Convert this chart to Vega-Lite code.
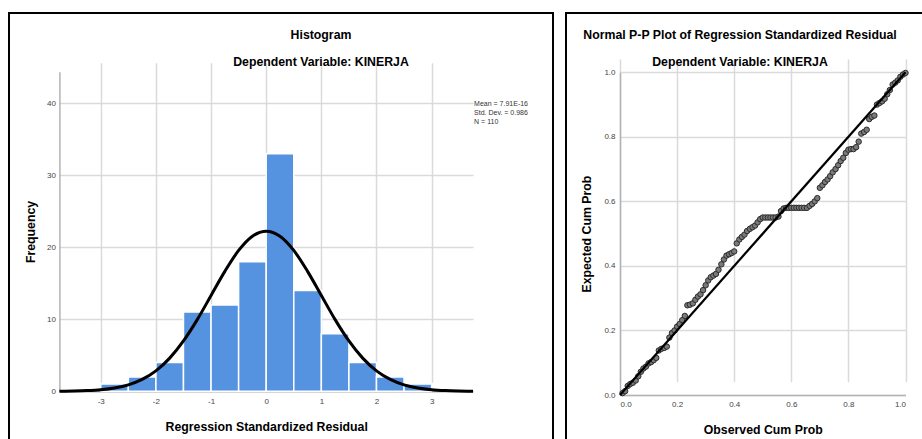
{
  "$schema": "https://vega.github.io/schema/vega-lite/v6.json",
  "padding": {"left": 8, "top": 12, "right": 0, "bottom": 0},
  "background": "white",
  "spacing": 13,
  "bounds": "flush",
  "config": {
    "font": "Liberation Sans",
    "view": {"stroke": "black", "strokeWidth": 2},
    "axis": {
      "ticks": false,
      "grid": true,
      "gridColor": "#dadada",
      "gridWidth": 1.5,
      "domainColor": "#b3b3b3",
      "domainWidth": 1.5,
      "labelFont": "Liberation Sans",
      "labelFontSize": 8,
      "labelColor": "#444444",
      "titleFont": "Liberation Sans",
      "titleFontSize": 12.3,
      "titleFontWeight": "bold",
      "titleColor": "black"
    }
  },
  "datasets": {
    "hist": [
      {"bin_start": -3.0, "bin_end": -2.5, "count": 1},
      {"bin_start": -2.5, "bin_end": -2.0, "count": 2},
      {"bin_start": -2.0, "bin_end": -1.5, "count": 4},
      {"bin_start": -1.5, "bin_end": -1.0, "count": 11},
      {"bin_start": -1.0, "bin_end": -0.5, "count": 12},
      {"bin_start": -0.5, "bin_end": 0.0, "count": 18},
      {"bin_start": 0.0, "bin_end": 0.5, "count": 33},
      {"bin_start": 0.5, "bin_end": 1.0, "count": 14},
      {"bin_start": 1.0, "bin_end": 1.5, "count": 8},
      {"bin_start": 1.5, "bin_end": 2.0, "count": 4},
      {"bin_start": 2.0, "bin_end": 2.5, "count": 2},
      {"bin_start": 2.5, "bin_end": 3.0, "count": 1}
    ],
    "curve": [
      {"z": -3.75, "freq": 0.016}, {"z": -3.5, "freq": 0.041}, {"z": -3.25, "freq": 0.097},
      {"z": -3.0, "freq": 0.217}, {"z": -2.75, "freq": 0.455}, {"z": -2.5, "freq": 0.894},
      {"z": -2.25, "freq": 1.65}, {"z": -2.0, "freq": 2.84}, {"z": -1.75, "freq": 4.61},
      {"z": -1.5, "freq": 7.0}, {"z": -1.25, "freq": 9.96}, {"z": -1.0, "freq": 13.31},
      {"z": -0.75, "freq": 16.66}, {"z": -0.5, "freq": 19.57}, {"z": -0.25, "freq": 21.55},
      {"z": 0.0, "freq": 22.25}, {"z": 0.25, "freq": 21.55}, {"z": 0.5, "freq": 19.57},
      {"z": 0.75, "freq": 16.66}, {"z": 1.0, "freq": 13.31}, {"z": 1.25, "freq": 9.96},
      {"z": 1.5, "freq": 7.0}, {"z": 1.75, "freq": 4.61}, {"z": 2.0, "freq": 2.84},
      {"z": 2.25, "freq": 1.65}, {"z": 2.5, "freq": 0.894}, {"z": 2.75, "freq": 0.455},
      {"z": 3.0, "freq": 0.217}, {"z": 3.25, "freq": 0.097}, {"z": 3.5, "freq": 0.041},
      {"z": 3.75, "freq": 0.016}
    ],
    "pp": [
      {"obs": 0.009, "exp": 0.006}, {"obs": 0.018, "exp": 0.012}, {"obs": 0.027, "exp": 0.028},
      {"obs": 0.036, "exp": 0.034}, {"obs": 0.045, "exp": 0.038}, {"obs": 0.055, "exp": 0.045},
      {"obs": 0.064, "exp": 0.058}, {"obs": 0.073, "exp": 0.072}, {"obs": 0.082, "exp": 0.082},
      {"obs": 0.091, "exp": 0.088}, {"obs": 0.1, "exp": 0.098}, {"obs": 0.109, "exp": 0.102},
      {"obs": 0.118, "exp": 0.108}, {"obs": 0.127, "exp": 0.115}, {"obs": 0.136, "exp": 0.138},
      {"obs": 0.145, "exp": 0.143}, {"obs": 0.155, "exp": 0.146}, {"obs": 0.164, "exp": 0.15},
      {"obs": 0.173, "exp": 0.178}, {"obs": 0.182, "exp": 0.192}, {"obs": 0.191, "exp": 0.2},
      {"obs": 0.2, "exp": 0.212}, {"obs": 0.209, "exp": 0.22}, {"obs": 0.218, "exp": 0.232},
      {"obs": 0.227, "exp": 0.245}, {"obs": 0.236, "exp": 0.278}, {"obs": 0.245, "exp": 0.28},
      {"obs": 0.255, "exp": 0.284}, {"obs": 0.264, "exp": 0.295}, {"obs": 0.273, "exp": 0.305},
      {"obs": 0.282, "exp": 0.312}, {"obs": 0.291, "exp": 0.325}, {"obs": 0.3, "exp": 0.34},
      {"obs": 0.309, "exp": 0.355}, {"obs": 0.318, "exp": 0.365}, {"obs": 0.327, "exp": 0.37},
      {"obs": 0.336, "exp": 0.375}, {"obs": 0.345, "exp": 0.388}, {"obs": 0.355, "exp": 0.405},
      {"obs": 0.364, "exp": 0.42}, {"obs": 0.373, "exp": 0.432}, {"obs": 0.382, "exp": 0.436},
      {"obs": 0.391, "exp": 0.44}, {"obs": 0.4, "exp": 0.445}, {"obs": 0.409, "exp": 0.47},
      {"obs": 0.418, "exp": 0.482}, {"obs": 0.427, "exp": 0.49}, {"obs": 0.436, "exp": 0.497},
      {"obs": 0.445, "exp": 0.508}, {"obs": 0.455, "exp": 0.515}, {"obs": 0.464, "exp": 0.52},
      {"obs": 0.473, "exp": 0.525}, {"obs": 0.482, "exp": 0.535}, {"obs": 0.491, "exp": 0.545},
      {"obs": 0.5, "exp": 0.55}, {"obs": 0.509, "exp": 0.55}, {"obs": 0.518, "exp": 0.55},
      {"obs": 0.527, "exp": 0.55}, {"obs": 0.536, "exp": 0.55}, {"obs": 0.545, "exp": 0.55},
      {"obs": 0.555, "exp": 0.553}, {"obs": 0.564, "exp": 0.57}, {"obs": 0.573, "exp": 0.578},
      {"obs": 0.582, "exp": 0.58}, {"obs": 0.591, "exp": 0.58}, {"obs": 0.6, "exp": 0.58},
      {"obs": 0.609, "exp": 0.58}, {"obs": 0.618, "exp": 0.58}, {"obs": 0.627, "exp": 0.58},
      {"obs": 0.636, "exp": 0.58}, {"obs": 0.645, "exp": 0.58}, {"obs": 0.655, "exp": 0.58},
      {"obs": 0.664, "exp": 0.586}, {"obs": 0.673, "exp": 0.592}, {"obs": 0.682, "exp": 0.6},
      {"obs": 0.691, "exp": 0.61}, {"obs": 0.7, "exp": 0.642}, {"obs": 0.709, "exp": 0.65},
      {"obs": 0.718, "exp": 0.66}, {"obs": 0.727, "exp": 0.668}, {"obs": 0.736, "exp": 0.678},
      {"obs": 0.745, "exp": 0.69}, {"obs": 0.755, "exp": 0.7}, {"obs": 0.764, "exp": 0.712},
      {"obs": 0.773, "exp": 0.725}, {"obs": 0.782, "exp": 0.735}, {"obs": 0.791, "exp": 0.75},
      {"obs": 0.8, "exp": 0.76}, {"obs": 0.809, "exp": 0.762}, {"obs": 0.818, "exp": 0.762},
      {"obs": 0.827, "exp": 0.768}, {"obs": 0.836, "exp": 0.785}, {"obs": 0.845, "exp": 0.81},
      {"obs": 0.855, "exp": 0.815}, {"obs": 0.864, "exp": 0.822}, {"obs": 0.873, "exp": 0.855},
      {"obs": 0.882, "exp": 0.862}, {"obs": 0.891, "exp": 0.866}, {"obs": 0.9, "exp": 0.9},
      {"obs": 0.909, "exp": 0.905}, {"obs": 0.918, "exp": 0.91}, {"obs": 0.927, "exp": 0.918},
      {"obs": 0.936, "exp": 0.932}, {"obs": 0.945, "exp": 0.945}, {"obs": 0.955, "exp": 0.962},
      {"obs": 0.964, "exp": 0.968}, {"obs": 0.973, "exp": 0.975}, {"obs": 0.982, "exp": 0.986},
      {"obs": 0.991, "exp": 0.993}, {"obs": 1.0, "exp": 0.998}
    ],
    "diag": [{"p": 0}, {"p": 1}]
  },
  "hconcat": [
    {
      "width": 544,
      "height": 428,
      "title": {
        "text": "Histogram",
        "subtitle": "Dependent Variable: KINERJA",
        "anchor": "middle",
        "frame": "group",
        "offset": -55,
        "dx": 40,
        "font": "Liberation Sans",
        "subtitleFont": "Liberation Sans",
        "fontSize": 12.3,
        "subtitleFontSize": 12.3,
        "fontWeight": "bold",
        "subtitleFontWeight": "bold",
        "subtitlePadding": 14,
        "color": "black",
        "subtitleColor": "black"
      },
      "layer": [
        {
          "data": {"name": "hist"},
          "mark": {"type": "rect", "fill": "#5592e0", "stroke": "white", "strokeWidth": 1.5},
          "encoding": {
            "x": {
              "field": "bin_start", "type": "quantitative",
              "title": "Regression Standardized Residual",
              "scale": {"domain": [-3.75, 3.75], "range": [50.4, 464], "nice": false, "zero": false},
              "axis": {"values": [-3, -2, -1, 0, 1, 2, 3], "labelExpr": "'' + datum.value", "offset": -49.7, "labelPadding": 6, "titlePadding": 15}
            },
            "x2": {"field": "bin_end"},
            "y": {
              "field": "count", "type": "quantitative",
              "title": "Frequency",
              "scale": {"domain": [0, 44.4], "range": [378.3, 58.7], "nice": false},
              "axis": {"values": [0, 10, 20, 30, 40], "format": "d", "offset": -50.4, "labelPadding": 4, "titlePadding": 9}
            },
            "y2": {"datum": 0}
          }
        },
        {
          "data": {"name": "curve"},
          "mark": {"type": "line", "color": "black", "strokeWidth": 3, "interpolate": "monotone"},
          "encoding": {
            "x": {"field": "z", "type": "quantitative", "title": "Regression Standardized Residual"},
            "y": {"field": "freq", "type": "quantitative", "title": "Frequency"}
          }
        },
        {
          "data": {"values": [{}]},
          "mark": {
            "type": "text", "align": "left", "baseline": "middle",
            "font": "Liberation Sans", "fontSize": 7, "lineHeight": 9, "color": "#333333",
            "text": ["Mean = 7.91E-16", "Std. Dev. = 0.986", "N = 110"]
          },
          "encoding": {
            "x": {"datum": 3.77},
            "y": {"datum": 39.9}
          }
        }
      ]
    },
    {
      "width": 360,
      "height": 428,
      "title": {
        "text": "Normal P-P Plot of Regression Standardized Residual",
        "subtitle": "Dependent Variable: KINERJA",
        "anchor": "middle",
        "frame": "group",
        "offset": -55,
        "dx": -6,
        "font": "Liberation Sans",
        "subtitleFont": "Liberation Sans",
        "fontSize": 12.3,
        "subtitleFontSize": 12.3,
        "fontWeight": "bold",
        "subtitleFontWeight": "bold",
        "subtitlePadding": 14,
        "color": "black",
        "subtitleColor": "black"
      },
      "layer": [
        {
          "data": {"name": "pp"},
          "mark": {"type": "point", "filled": true, "fill": "#7a7a7a", "stroke": "#2b2b2b", "strokeWidth": 1, "size": 30, "opacity": 1},
          "encoding": {
            "x": {
              "field": "obs", "type": "quantitative", "title": "Observed Cum Prob",
              "scale": {"domain": [0, 1], "range": [54, 339.5], "nice": false},
              "axis": {"values": [0, 0.2, 0.4, 0.6, 0.8, 1.0], "format": ".1f", "offset": -46, "labelPadding": 5, "titlePadding": 15}
            },
            "y": {
              "field": "exp", "type": "quantitative", "title": "Expected Cum Prob",
              "scale": {"domain": [0, 1], "range": [382, 59.3], "nice": false},
              "axis": {"values": [0, 0.2, 0.4, 0.6, 0.8, 1.0], "format": ".1f", "offset": -54, "labelPadding": 5, "titlePadding": 10.7}
            }
          }
        },
        {
          "data": {"name": "diag"},
          "mark": {"type": "line", "color": "black", "strokeWidth": 2.2},
          "encoding": {
            "x": {"field": "p", "type": "quantitative", "title": "Observed Cum Prob"},
            "y": {"field": "p", "type": "quantitative", "title": "Expected Cum Prob"}
          }
        }
      ]
    }
  ]
}
